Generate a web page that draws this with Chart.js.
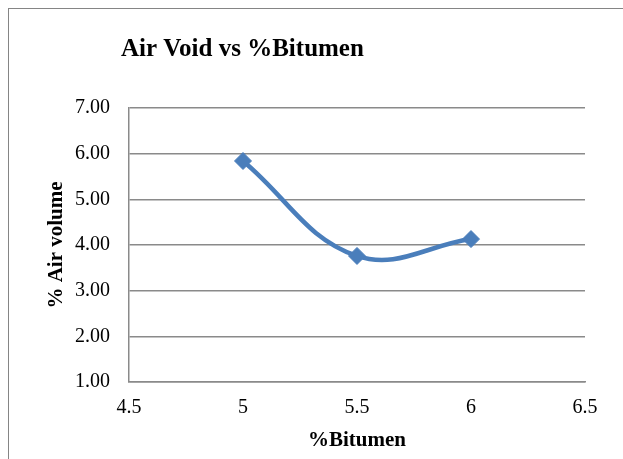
<!DOCTYPE html>
<html>
<head>
<meta charset="utf-8">
<title>Air Void vs %Bitumen</title>
<script src="https://cdn.jsdelivr.net/npm/chart.js@4.4.1/dist/chart.umd.min.js"></script>
<style>
  html, body { margin: 0; padding: 0; background: #ffffff; }
  #wrap { position: relative; width: 623px; height: 459px; overflow: hidden; }
  #frame {
    position: absolute; left: 8px; top: 8px; width: 700px; height: 600px;
    border-left: 1px solid #858585; border-top: 1px solid #858585;
  }
  #chart { position: absolute; left: 0; top: 0; }
</style>
</head>
<body>
<div id="wrap">
  <div id="frame"></div>
  <canvas id="chart" width="623" height="459"></canvas>
</div>
<script>
// Bitumen content (%) and measured air voids (%)
const bitumenContent = [5, 5.5, 6];
const airVoids = [5.84, 3.76, 4.13];

// Axis ranges and tick steps
const xRange = [4.5, 6.5];
const xStep = 0.5;
const yRange = [1, 7];
const yStep = 1;

const chartTitle = 'Air Void vs %Bitumen';
const xTitle = '%Bitumen';
const yTitle = '% Air volume';

const SERIF = '"Liberation Serif", "Times New Roman", Times, serif';
const GRID = '#8a8a8a';
const BLUE = '#4a7ebb';

// Title drawn at the top-left, above the plot
const titlePlugin = {
  id: 'leftTitle',
  afterDraw(chart) {
    const ctx = chart.ctx;
    ctx.save();
    ctx.font = 'bold 25px ' + SERIF;
    ctx.fillStyle = '#000000';
    ctx.textBaseline = 'alphabetic';
    ctx.textAlign = 'left';
    ctx.fillText(chartTitle, 121, 56);
    ctx.restore();
  }
};

const points = bitumenContent.map((x, i) => ({ x: x, y: airVoids[i] }));

new Chart(document.getElementById('chart'), {
  type: 'scatter',
  data: {
    datasets: [{
      data: points,
      showLine: true,
      borderColor: BLUE,
      backgroundColor: BLUE,
      borderWidth: 4.5,
      tension: 0.4,
      pointStyle: 'rectRot',
      pointRadius: 8.5,
      pointHoverRadius: 8.5,
      pointBorderWidth: 1,
      pointBackgroundColor: BLUE,
      pointBorderColor: BLUE
    }]
  },
  options: {
    responsive: false,
    animation: false,
    events: [],
    layout: { padding: { left: 0, right: 38, top: 108, bottom: 0 } },
    plugins: {
      legend: { display: false },
      title: { display: false },
      tooltip: { enabled: false }
    },
    scales: {
      x: {
        type: 'linear',
        min: xRange[0],
        max: xRange[1],
        afterFit(scale) { scale.height = 77; },
        ticks: {
          stepSize: xStep,
          padding: 14,
          color: '#000000',
          font: { family: SERIF, size: 20 },
          maxRotation: 0,
          callback: v => String(v)
        },
        grid: { display: false, drawTicks: false },
        border: { display: true, color: GRID, width: 1.5 },
        title: {
          display: true,
          text: xTitle,
          color: '#000000',
          font: { family: SERIF, size: 21, weight: 'bold' },
          padding: { top: 0, bottom: 6 }
        }
      },
      y: {
        type: 'linear',
        min: yRange[0],
        max: yRange[1],
        afterFit(scale) { scale.width = 129; },
        ticks: {
          stepSize: yStep,
          padding: 19,
          color: '#000000',
          font: { family: SERIF, size: 20 },
          callback: v => v.toFixed(2)
        },
        grid: { display: true, drawTicks: false, color: GRID, lineWidth: 1.5 },
        border: { display: true, color: GRID, width: 1.5 },
        title: {
          display: true,
          text: yTitle,
          color: '#000000',
          font: { family: SERIF, size: 21, weight: 'bold' },
          padding: { top: 44, bottom: 0 }
        }
      }
    }
  },
  plugins: [titlePlugin]
});
</script>
</body>
</html>
